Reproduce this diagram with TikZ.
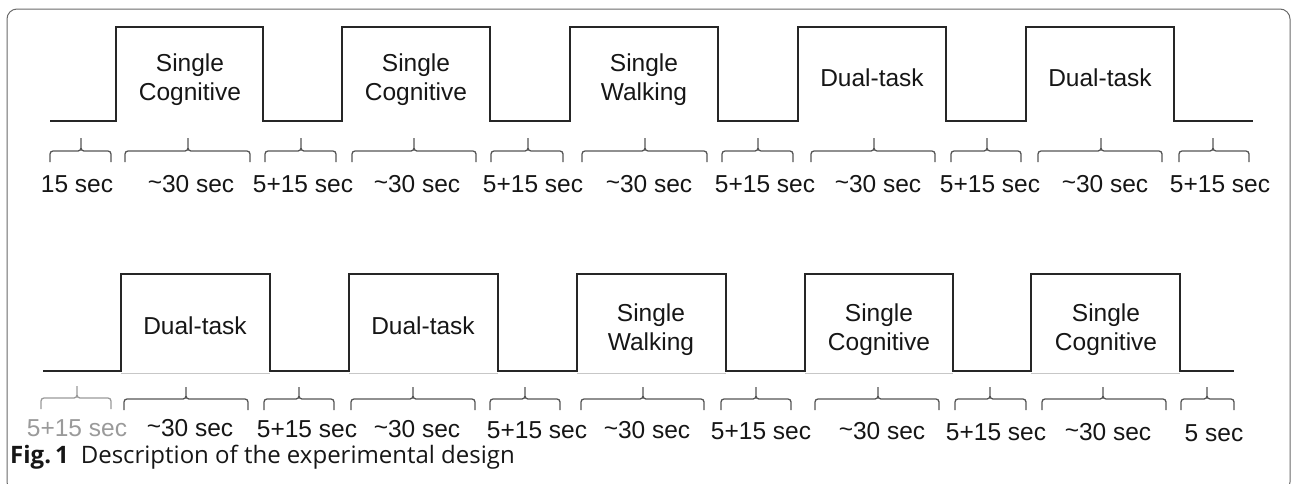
\documentclass[tikz,border=0pt]{standalone}
\usepackage{fontspec}
\setmainfont{Liberation Sans}
\newfontfamily\capfont{Open Sans}
\definecolor{waveclr}{HTML}{262626}
\definecolor{braceclr}{HTML}{555555}
\definecolor{txtclr}{HTML}{161616}
\definecolor{fadeclr}{HTML}{9A9A9A}
\definecolor{frameclr}{HTML}{6A6A6A}
\newcommand{\apx}{\raisebox{0.1ex}{\char`\~}}
\begin{document}
\begin{tikzpicture}[x=1pt,y=-1pt,
  wave/.style={line width=1.8pt, draw=waveclr, line join=miter},
  boxfloor/.style={line width=1.2pt, draw=black!22},
  brc/.style={line width=1.3pt, draw=braceclr, rounded corners=3pt},
  lbl/.style={font=\fontsize{24.5}{29}\selectfont, text=txtclr, inner sep=0pt, align=center},
  dur/.style={lbl, anchor=base},
]
\useasboundingbox (0,0) rectangle (1292,483);
% outer frame
\draw[frameclr, line width=1pt, rounded corners=10pt] (7,9) rectangle (1290,492);

% ---------- first block sequence ----------
\draw[wave] (50,121) -- (116,121) -- (116,27) -- (263,27) -- (263,121)
  -- (342,121) -- (342,27) -- (490,27) -- (490,121)
  -- (570,121) -- (570,27) -- (718,27) -- (718,121)
  -- (798,121) -- (798,27) -- (946,27) -- (946,121)
  -- (1026,121) -- (1026,27) -- (1174,27) -- (1174,121) -- (1253,121);

\node[lbl] (a1) at (190,80) {Single\\Cognitive};
\node[lbl] (a2) at (416,80) {Single\\Cognitive};
\node[lbl] (a3) at (644,80) {Single\\Walking};
\node[lbl, anchor=base] (a4) at (872,86) {Dual-task};
\node[lbl, anchor=base] (a5) at (1100,86) {Dual-task};

\foreach \a/\m/\b in {50/81/111, 125/188/250, 265/301/336, 352/414/476,
    491/528/563, 582/645/707, 722/758/793, 811/874/935, 951/987/1021,
    1038/1101/1162, 1179/1213/1249}
  \draw[brc] (\a,162) -- (\a,151) -- (\m,151) -- (\m,138)
             (\m,138) -- (\m,151) -- (\b,151) -- (\b,162);

\foreach \x/\t [count=\i] in {77/15 sec, 191/\apx30 sec, 303/5+15 sec,
    417/\apx30 sec, 533/5+15 sec, 649/\apx30 sec,
    765/5+15 sec, 878/\apx30 sec, 990/5+15 sec,
    1105/\apx30 sec, 1220/5+15 sec}
  \node[dur] (ta\i) at (\x,192) {\t};

% ---------- second block sequence ----------
\draw[wave] (43,371) -- (121,371) -- (121,274) -- (270,274) -- (270,371)
  -- (349,371) -- (349,274) -- (498,274) -- (498,371)
  -- (577,371) -- (577,274) -- (726,274) -- (726,371)
  -- (805,371) -- (805,274) -- (953,274) -- (953,371)
  -- (1031,371) -- (1031,274) -- (1180,274) -- (1180,371) -- (1234,371);
\foreach \a/\b in {121/270, 349/498, 577/726, 805/953, 1031/1180}
  \draw[boxfloor] (\a,373.5) -- (\b,373.5);

\node[lbl, anchor=base] (b1) at (195,334) {Dual-task};
\node[lbl, anchor=base] (b2) at (423,334) {Dual-task};
\node[lbl] (b3) at (651,330) {Single\\Walking};
\node[lbl] (b4) at (879,330) {Single\\Cognitive};
\node[lbl] (b5) at (1106,330) {Single\\Cognitive};

\draw[brc, draw=fadeclr] (41,409) -- (41,398) -- (77,398) -- (77,386)
                         (77,386) -- (77,398) -- (111,398) -- (111,409);
\foreach \a/\m/\b in {124/186/248, 264/299/334, 351/413/475, 490/525/560,
    581/643/704, 721/756/791, 815/878/939, 955/990/1026, 1042/1103/1166,
    1181/1207/1234}
  \draw[brc] (\a,410) -- (\a,399) -- (\m,399) -- (\m,387)
             (\m,387) -- (\m,399) -- (\b,399) -- (\b,410);

\node[dur, text=fadeclr] (tb1) at (77,436) {5+15 sec};
\foreach \x/\y/\t [count=\i from 2] in {190/436/\apx30 sec, 307/437/5+15 sec,
    417/437/\apx30 sec, 537/438/5+15 sec, 647/438/\apx30 sec,
    761/439/5+15 sec, 882/439/\apx30 sec, 996/440/5+15 sec,
    1108/440/\apx30 sec, 1214/441/5 sec}
  \node[dur] (tb\i) at (\x,\y) {\t};

% ---------- caption ----------
\node[anchor=base west, inner sep=0pt, text=txtclr, font=\capfont\fontsize{24}{28}\selectfont]
  (cap) at (10,463) {\textbf{Fig.\,1}\hspace{0.5em}Description of the experimental design};
\end{tikzpicture}
\end{document}
